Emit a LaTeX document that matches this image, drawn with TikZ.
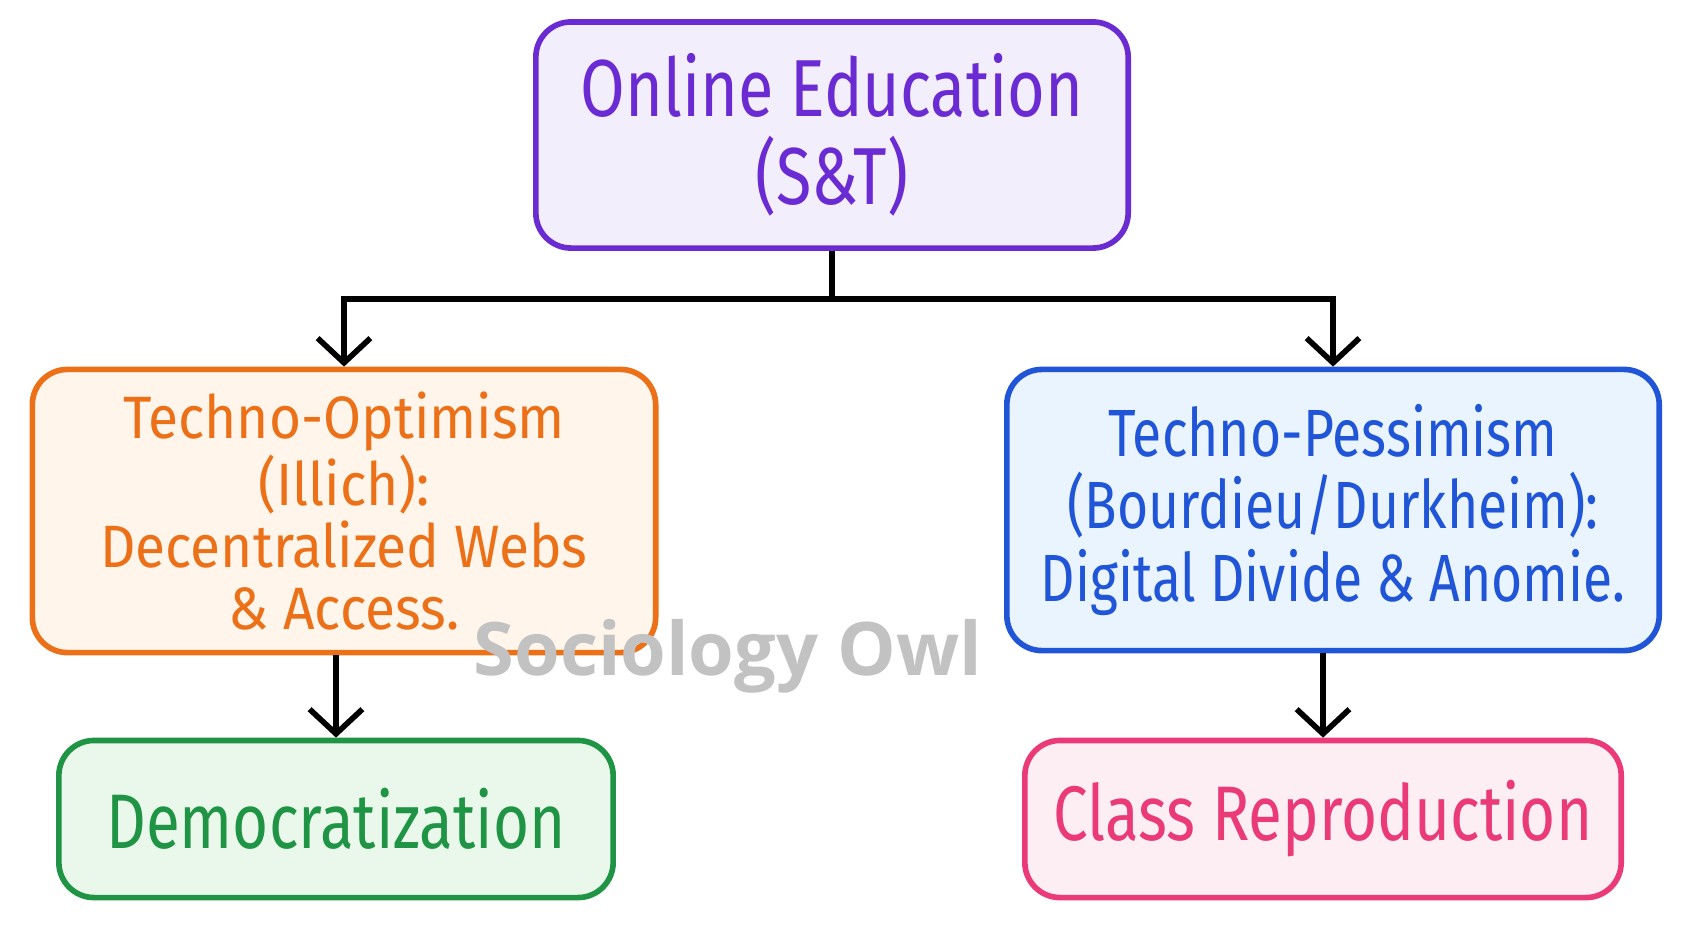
\documentclass[tikz,border=0pt]{standalone}
\usepackage{fontspec}
\setmainfont{Fira Sans}[FakeStretch=0.8]
\newfontfamily\largo{Fira Sans}[FakeStretch=0.92]
\newfontfamily\marchio{Open Sans}
\usetikzlibrary{arrows.meta}

% Colori dei riquadri
\definecolor{viola}{HTML}{6A2BD3}
\definecolor{violachiaro}{HTML}{F3EEFC}
\definecolor{arancio}{HTML}{EC7018}
\definecolor{aranciochiaro}{HTML}{FFF5EA}
\definecolor{blu}{HTML}{1F55D6}
\definecolor{bluchiaro}{HTML}{E9F4FE}
\definecolor{verde}{HTML}{1E9444}
\definecolor{verdechiaro}{HTML}{EAF8EB}
\definecolor{rosa}{HTML}{EA3A78}
\definecolor{rosachiaro}{HTML}{FDEEF4}

\tikzset{
    scatola/.style={draw, line width=1.6pt, rounded corners=10pt, align=center, inner sep=2pt},
    linea/.style={line width=1.6pt},
    freccia/.style={line width=1.6pt, -{Straight Barb[length=7pt, width=15pt]}}
}

\begin{document}
\begin{tikzpicture}[x=0.01cm, y=-0.01cm]
    \useasboundingbox (0,0) rectangle (1692,930);

    % Riquadro principale
    \node[scatola, draw=viola, fill=violachiaro, text=viola, minimum width=5.92cm, minimum height=2.26cm,
        font=\fontsize{23}{25}\selectfont] (online) at (832,135) {Online Education\\(S\&T)};

    % Le due visioni
    \node[scatola, draw=arancio, fill=aranciochiaro, text=arancio, minimum width=6.23cm, minimum height=2.83cm,
        font=\largo\fontsize{17}{17.6}\selectfont] (ottimismo) at (344,511) {Techno-Optimism\\(Illich):\\Decentralized Webs\\\& Access.};
    \node[scatola, draw=blu, fill=bluchiaro, text=blu, minimum width=6.52cm, minimum height=2.81cm,
        font=\fontsize{19}{20.5}\selectfont] (pessimismo) at (1333,510) {Techno-Pessimism\\(Bourdieu/Durkheim):\\Digital Divide \& Anomie.};

    % Le conseguenze
    \node[scatola, draw=verde, fill=verdechiaro, text=verde, minimum width=5.54cm, minimum height=1.57cm,
        font=\fontsize{22}{24}\selectfont] (democrazia) at (336,819) {Democratization};
    \node[scatola, draw=rosa, fill=rosachiaro, text=rosa, minimum width=5.96cm, minimum height=1.57cm,
        font=\fontsize{22}{24}\selectfont] (riproduzione) at (1323,819) {Class Reproduction};

    % Collegamenti
    \coordinate (bivio) at (832,299);
    \draw[linea] (online) -- (bivio);
    \foreach \meta in {ottimismo, pessimismo} {
        \draw[freccia] (bivio) -| (\meta.north);
    }
    \draw[freccia] (ottimismo.south -| democrazia.north) -- (democrazia.north);
    \draw[freccia] (pessimismo.south -| riproduzione.north) -- (riproduzione.north);

    % Filigrana
    \node[text=black!24, font=\marchio\bfseries\fontsize{21}{21}\selectfont] (filigrana) at (728,656) {Sociology Owl};
\end{tikzpicture}
\end{document}
